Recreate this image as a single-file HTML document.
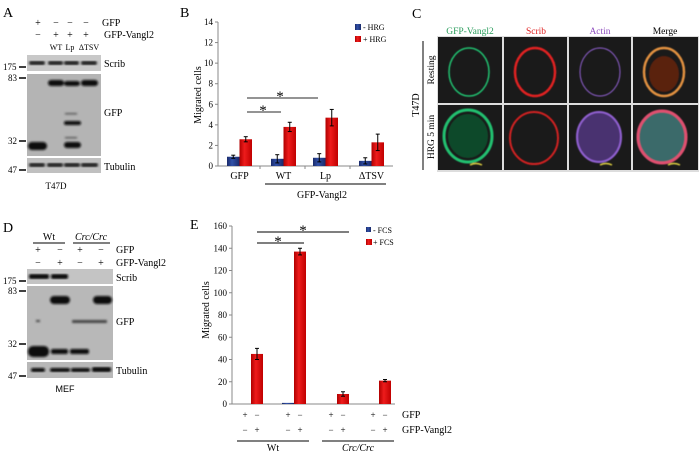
<!DOCTYPE html>
<html><head><meta charset="utf-8"><style>
html,body{margin:0;padding:0;background:#fff;width:700px;height:451px;overflow:hidden}
svg{display:block;font-family:"Liberation Serif",serif}
</style></head><body>
<svg id="fig" width="700" height="451" viewBox="0 0 700 451">
<defs>
<filter id="blur1"><feGaussianBlur stdDeviation="1"/></filter>
<filter id="blur05"><feGaussianBlur stdDeviation="0.6"/></filter>
<linearGradient id="gRed" x1="0" x2="1"><stop offset="0" stop-color="#b00000"/><stop offset="0.4" stop-color="#ee1c1c"/><stop offset="1" stop-color="#c00000"/></linearGradient>
<linearGradient id="gBlue" x1="0" x2="1"><stop offset="0" stop-color="#1a2a6a"/><stop offset="0.4" stop-color="#3050a8"/><stop offset="1" stop-color="#1a2a6a"/></linearGradient>
</defs>

<!-- Panel A -->
<g font-size="10">
<text x="3" y="17" font-size="14">A</text>
<g>
<text x="38" y="26" text-anchor="middle">+</text><text x="56" y="26" text-anchor="middle">−</text><text x="70" y="26" text-anchor="middle">−</text><text x="86" y="26" text-anchor="middle">−</text>
<text x="102" y="26">GFP</text>
<text x="38" y="38" text-anchor="middle">−</text><text x="56" y="38" text-anchor="middle">+</text><text x="70" y="38" text-anchor="middle">+</text><text x="86" y="38" text-anchor="middle">+</text>
<text x="104" y="38">GFP-Vangl2</text>
<text x="56" y="50" text-anchor="middle" font-size="8">WT</text><text x="70" y="50" text-anchor="middle" font-size="8">Lp</text><text x="89" y="50" text-anchor="middle" font-size="8">ΔTSV</text>
</g>
<g>
<rect x="27" y="55" width="74" height="16" fill="#c8c8c8"/>
<g filter="url(#blur1)" fill="#222"><rect x="29" y="61" width="16" height="4" rx="2"/><rect x="48" y="61" width="15" height="4" rx="2"/><rect x="64" y="61" width="15" height="4" rx="2"/><rect x="81" y="61" width="16" height="4" rx="2"/></g>
<text x="104" y="67">Scrib</text><text x="3" y="70" font-size="9">175</text><line x1="19" y1="67" x2="26" y2="67" stroke="#000" stroke-width="1.5"/>
</g>
<g>
<rect x="27" y="74" width="74" height="82" fill="#b4b4b4"/>
<g filter="url(#blur1)" fill="#111"><rect x="48" y="80" width="16" height="6" rx="3"/><rect x="64" y="81" width="16" height="5" rx="3"/><rect x="81" y="80" width="17" height="6" rx="3"/>
<rect x="28" y="142" width="19" height="8" rx="4"/><rect x="64" y="121" width="17" height="4" rx="2"/><rect x="64" y="142" width="17" height="6" rx="3"/><rect x="65" y="113" width="12" height="1.5" fill="#555"/><rect x="65" y="137" width="12" height="1.5" fill="#555"/></g>
<text x="104" y="116">GFP</text><text x="8" y="81" font-size="9">83</text><line x1="19" y1="78" x2="26" y2="78" stroke="#000" stroke-width="1.5"/>
<text x="8" y="144" font-size="9">32</text><line x1="19" y1="141" x2="26" y2="141" stroke="#000" stroke-width="1.5"/>
</g>
<g>
<rect x="27" y="158" width="74" height="15" fill="#c0c0c0"/>
<g filter="url(#blur1)" fill="#222"><rect x="29" y="163" width="16" height="4" rx="2"/><rect x="47" y="163" width="16" height="4" rx="2"/><rect x="64" y="163" width="16" height="4" rx="2"/><rect x="81" y="163" width="17" height="4" rx="2"/></g>
<text x="104" y="170">Tubulin</text><text x="8" y="173" font-size="9">47</text><line x1="19" y1="170" x2="26" y2="170" stroke="#000" stroke-width="1.5"/>
</g>
<text x="56" y="189" text-anchor="middle" font-size="9">T47D</text>
</g>

<!-- Panel B chart -->
<g id="chartB" font-size="9"></g>

<!-- Panel C -->
<g>
<text x="412" y="18" font-size="14">C</text>
<text x="470" y="34" text-anchor="middle" font-size="9.5" fill="#2a9d5c">GFP-Vangl2</text>
<text x="536" y="34" text-anchor="middle" font-size="9.5" fill="#e02020">Scrib</text>
<text x="600" y="34" text-anchor="middle" font-size="9.5" fill="#9050c0">Actin</text>
<text x="665" y="34" text-anchor="middle" font-size="9.5">Merge</text>
<line x1="423" y1="41" x2="423" y2="170" stroke="#000"/>
<text transform="translate(419,105) rotate(-90)" text-anchor="middle" font-size="10">T47D</text>
<text transform="translate(434,70) rotate(-90)" text-anchor="middle" font-size="9.5">Resting</text>
<text transform="translate(434,137) rotate(-90)" text-anchor="middle" font-size="9.5">HRG 5 min</text>
<rect x="437" y="36" width="262" height="136" fill="#ddd"/>
<g fill="#1a1a1a">
<rect x="438" y="37" width="64" height="66"/><rect x="504" y="37" width="63" height="66"/><rect x="569" y="37" width="62" height="66"/><rect x="633" y="37" width="65" height="66"/>
<rect x="438" y="105" width="64" height="65"/><rect x="504" y="105" width="63" height="65"/><rect x="569" y="105" width="62" height="65"/><rect x="633" y="105" width="65" height="65"/>
</g>
<g fill="none" filter="url(#blur05)">
<ellipse cx="469" cy="72" rx="20" ry="24" stroke="#20c070" stroke-width="1.5"/>
<ellipse cx="535" cy="72" rx="20" ry="24" stroke="#e02020" stroke-width="2.5"/>
<ellipse cx="600" cy="72" rx="20" ry="24" stroke="#9060d0" stroke-width="1"/>
<ellipse cx="664" cy="72" rx="20" ry="24" stroke="#e09040" stroke-width="2.5"/><ellipse cx="664" cy="74" rx="15" ry="18" fill="#5a2010" stroke="none"/>
<ellipse cx="468" cy="136" rx="24" ry="26" stroke="#20c070" stroke-width="3"/><ellipse cx="468" cy="136" rx="20" ry="22" fill="#0c4a2a" stroke="none"/>
<ellipse cx="534" cy="138" rx="24" ry="26" stroke="#d02020" stroke-width="2"/>
<ellipse cx="599" cy="137" rx="22" ry="25" fill="#4a3070" stroke="#9060d0" stroke-width="2"/>
<ellipse cx="662" cy="137" rx="24" ry="26" fill="#3a6a6a" stroke="#e05070" stroke-width="3"/>
<path d="M470 165 q6 -3 12 0 M600 165 q6 -3 12 0 M668 165 q6 -3 12 0" stroke="#e0d040" stroke-width="1.5"/>
</g>
</g>

<!-- Panel D -->
<g font-size="10">
<text x="3" y="232" font-size="14">D</text>
<text x="49" y="240" text-anchor="middle">Wt</text><line x1="33" y1="243" x2="65" y2="243" stroke="#000"/>
<text x="91" y="240" text-anchor="middle" font-style="italic">Crc/Crc</text><line x1="73" y1="243" x2="110" y2="243" stroke="#000"/>
<text x="38" y="253" text-anchor="middle">+</text><text x="60" y="253" text-anchor="middle">−</text><text x="80" y="253" text-anchor="middle">+</text><text x="101" y="253" text-anchor="middle">−</text><text x="116" y="253">GFP</text>
<text x="38" y="266" text-anchor="middle">−</text><text x="60" y="266" text-anchor="middle">+</text><text x="80" y="266" text-anchor="middle">−</text><text x="101" y="266" text-anchor="middle">+</text><text x="116" y="266">GFP-Vangl2</text>
<g>
<rect x="27" y="269" width="86" height="15" fill="#c4c4c4"/>
<g filter="url(#blur1)" fill="#111"><rect x="29" y="274" width="20" height="5" rx="2"/><rect x="51" y="274" width="17" height="5" rx="2"/></g>
<text x="116" y="281">Scrib</text><text x="3" y="284" font-size="9">175</text><line x1="19" y1="281" x2="26" y2="281" stroke="#000" stroke-width="1.5"/>
</g>
<g>
<rect x="27" y="286" width="86" height="74" fill="#b8b8b8"/>
<g filter="url(#blur1)" fill="#111"><rect x="50" y="296" width="20" height="8" rx="4"/><rect x="93" y="296" width="19" height="8" rx="4"/>
<rect x="28" y="346" width="21" height="11" rx="5"/><rect x="51" y="349" width="17" height="5" rx="2"/><rect x="70" y="349" width="19" height="5" rx="2"/>
<rect x="72" y="320" width="35" height="3" rx="1" fill="#444"/><rect x="36" y="320" width="4" height="2" fill="#444"/></g>
<text x="116" y="325">GFP</text><text x="8" y="294" font-size="9">83</text><line x1="19" y1="291" x2="26" y2="291" stroke="#000" stroke-width="1.5"/>
<text x="8" y="347" font-size="9">32</text><line x1="19" y1="344" x2="26" y2="344" stroke="#000" stroke-width="1.5"/>
</g>
<g>
<rect x="27" y="362" width="86" height="16" fill="#b8b8b8"/>
<g filter="url(#blur1)" fill="#111"><rect x="31" y="368" width="14" height="4" rx="2"/><rect x="50" y="368" width="20" height="4" rx="2"/><rect x="71" y="368" width="19" height="4" rx="2"/><rect x="92" y="367" width="19" height="5" rx="2"/></g>
<text x="116" y="374">Tubulin</text><text x="8" y="379" font-size="9">47</text><line x1="19" y1="376" x2="26" y2="376" stroke="#000" stroke-width="1.5"/>
</g>
<text x="65" y="392" text-anchor="middle" font-family="Liberation Sans, sans-serif" font-size="9">MEF</text>
</g>

<!-- Panel E chart -->
<g id="chartE" font-size="9"></g>
</svg>

<script>
// ----- Panel B data -----
const bCategories = ["GFP", "WT", "Lp", "ΔTSV"];
const bMinusHRG = [0.9, 0.7, 0.8, 0.5];
const bMinusErr = [0.15, 0.4, 0.4, 0.3];
const bPlusHRG = [2.6, 3.8, 4.7, 2.3];
const bPlusErr = [0.25, 0.45, 0.8, 0.8];
const bTicks = [0, 2, 4, 6, 8, 10, 12, 14];

// ----- Panel E data -----
const eGroups = ["Wt GFP", "Wt GFP-Vangl2", "Crc/Crc GFP", "Crc/Crc GFP-Vangl2"];
const eMinusFCS = [0, 1, 0, 0];
const ePlusFCS = [45, 137, 9, 21];
const ePlusErr = [5, 3, 2, 1];
const eTicks = [0, 20, 40, 60, 80, 100, 120, 140, 160];

const NS = "http://www.w3.org/2000/svg";
function mk(parent, tag, attrs, text) {
  const e = document.createElementNS(NS, tag);
  for (const k in attrs) e.setAttribute(k, attrs[k]);
  if (text !== undefined) e.textContent = text;
  parent.appendChild(e);
  return e;
}

// ===== Panel B =====
(function(){
  const g = document.getElementById("chartB");
  const x0 = 218, x1 = 393, yb = 166, yt = 22, vmax = 14;
  const yS = v => yb - v / vmax * (yb - yt);
  const groupLeft = [227, 271, 313, 359];
  const bw = 12.5;
  const xS = i => groupLeft[i];
  let t = mk(g, "text", {x: 180, y: 17, "font-size": 14}, "B");
  
  
  let ax = mk(g, "line", {x1: x0, y1: yt, x2: x0, y2: yb, stroke: "#888"});
  
  
  let xa = mk(g, "line", {x1: x0, y1: yb, x2: x1, y2: yb, stroke: "#888"});
  
  
  bTicks.forEach(v => {
    mk(g, "line", {x1: x0 - 3, y1: yS(v), x2: x0, y2: yS(v), stroke: "#888"});
    const tl = mk(g, "text", {x: x0 - 5, y: yS(v) + 3, "text-anchor": "end"}, v);
    
    
  });
  [260, 305, 350].forEach(x => mk(g, "line", {x1: x, y1: yb, x2: x, y2: yb + 3, stroke: "#888"}));
  const yl = mk(g, "text", {transform: "translate(201,95) rotate(-90)", "text-anchor": "middle", "font-size": 10}, "Migrated cells");
  
  
  bCategories.forEach((c, i) => {
    const xb = xS(i);
    const rb = mk(g, "rect", {x: xb, y: yS(bMinusHRG[i]), width: bw, height: yb - yS(bMinusHRG[i]), fill: "url(#gBlue)"});
    
    
    const rr = mk(g, "rect", {x: xb + bw, y: yS(bPlusHRG[i]), width: bw, height: yb - yS(bPlusHRG[i]), fill: "url(#gRed)"});
    
    
    [[xb + bw/2, bMinusHRG[i], bMinusErr[i]], [xb + bw*1.5, bPlusHRG[i], bPlusErr[i]]].forEach(([cx, v, e]) => {
      mk(g, "line", {x1: cx, y1: yS(v + e), x2: cx, y2: yS(v - e), stroke: "#000"});
      mk(g, "line", {x1: cx - 2, y1: yS(v + e), x2: cx + 2, y2: yS(v + e), stroke: "#000"});
      mk(g, "line", {x1: cx - 2, y1: yS(v - e), x2: cx + 2, y2: yS(v - e), stroke: "#000"});
    });
    const cl = mk(g, "text", {x: xb + bw, y: yb + 13, "text-anchor": "middle", "font-size": 10}, c);
    
    
  });
  mk(g, "line", {x1: 265, y1: 184, x2: 386, y2: 184, stroke: "#000"});
  const gl = mk(g, "text", {x: 322, y: 198, "text-anchor": "middle", "font-size": 10}, "GFP-Vangl2");
  
  
  mk(g, "line", {x1: 247, y1: 112, x2: 281, y2: 112, stroke: "#555", "stroke-width": 1.3});
  mk(g, "text", {x: 263, y: 115, "text-anchor": "middle", "font-size": 15}, "*");
  mk(g, "line", {x1: 247, y1: 98, x2: 318, y2: 98, stroke: "#555", "stroke-width": 1.3});
  mk(g, "text", {x: 280, y: 101, "text-anchor": "middle", "font-size": 15}, "*");
  const l1 = mk(g, "rect", {x: 355, y: 24, width: 6, height: 6, fill: "url(#gBlue)"});
  
  
  mk(g, "text", {x: 363, y: 30, "font-size": 8}, "- HRG");
  const l2 = mk(g, "rect", {x: 355, y: 36, width: 6, height: 6, fill: "url(#gRed)"});
  
  
  mk(g, "text", {x: 363, y: 42, "font-size": 8}, "+ HRG");
})();

// ===== Panel E =====
(function(){
  const g = document.getElementById("chartE");
  const x0 = 232, x1 = 395, yb = 404, yt = 226, vmax = 160;
  const yS = v => yb - v / vmax * (yb - yt);
  const groupLeft = [239, 282, 325, 367];
  const bw = 12;
  let t = mk(g, "text", {x: 190, y: 229, "font-size": 14}, "E");
  
  
  const ya = mk(g, "line", {x1: x0, y1: yt, x2: x0, y2: yb, stroke: "#888"});
  
  
  const xa = mk(g, "line", {x1: x0, y1: yb, x2: x1, y2: yb, stroke: "#888"});
  
  
  eTicks.forEach(v => {
    mk(g, "line", {x1: x0 - 3, y1: yS(v), x2: x0, y2: yS(v), stroke: "#888"});
    const tl = mk(g, "text", {x: x0 - 5, y: yS(v) + 3, "text-anchor": "end"}, v);
    
    
  });
  const yl = mk(g, "text", {transform: "translate(209,310) rotate(-90)", "text-anchor": "middle", "font-size": 10}, "Migrated cells");
  
  
  eGroups.forEach((c, i) => {
    const xb = groupLeft[i];
    if (eMinusFCS[i] > 0) {
      const rb = mk(g, "rect", {x: xb, y: yS(eMinusFCS[i]), width: bw, height: yb - yS(eMinusFCS[i]), fill: "url(#gBlue)"});
      
      
    }
    const rr = mk(g, "rect", {x: xb + bw, y: yS(ePlusFCS[i]), width: bw, height: yb - yS(ePlusFCS[i]), fill: "url(#gRed)"});
    
    
    const cx = xb + bw * 1.5, v = ePlusFCS[i], e = ePlusErr[i];
    mk(g, "line", {x1: cx, y1: yS(v + e), x2: cx, y2: yS(v - e), stroke: "#000"});
    mk(g, "line", {x1: cx - 2, y1: yS(v + e), x2: cx + 2, y2: yS(v + e), stroke: "#000"});
    mk(g, "line", {x1: cx - 2, y1: yS(v - e), x2: cx + 2, y2: yS(v - e), stroke: "#000"});
    mk(g, "text", {x: xb + bw/2, y: 418, "text-anchor": "middle"}, "+");
    mk(g, "text", {x: xb + bw*1.5, y: 418, "text-anchor": "middle"}, "−");
    mk(g, "text", {x: xb + bw/2, y: 433, "text-anchor": "middle"}, "−");
    mk(g, "text", {x: xb + bw*1.5, y: 433, "text-anchor": "middle"}, "+");
  });
  mk(g, "text", {x: 402, y: 418, "font-size": 10}, "GFP");
  mk(g, "text", {x: 402, y: 433, "font-size": 10}, "GFP-Vangl2");
  mk(g, "line", {x1: 237, y1: 441, x2: 309, y2: 441, stroke: "#000"});
  mk(g, "line", {x1: 322, y1: 441, x2: 394, y2: 441, stroke: "#000"});
  const w = mk(g, "text", {x: 273, y: 451, "text-anchor": "middle", "font-size": 10}, "Wt");
  
  
  const cr = mk(g, "text", {x: 358, y: 451, "text-anchor": "middle", "font-size": 10, "font-style": "italic"}, "Crc/Crc");
  
  
  mk(g, "line", {x1: 257, y1: 243, x2: 304, y2: 243, stroke: "#333", "stroke-width": 1.2});
  mk(g, "text", {x: 278, y: 246, "text-anchor": "middle", "font-size": 15}, "*");
  mk(g, "line", {x1: 257, y1: 232, x2: 349, y2: 232, stroke: "#333", "stroke-width": 1.2});
  mk(g, "text", {x: 303, y: 235, "text-anchor": "middle", "font-size": 15}, "*");
  const l1 = mk(g, "rect", {x: 366, y: 227, width: 5, height: 5, fill: "url(#gBlue)"});
  
  
  mk(g, "text", {x: 373, y: 233, "font-size": 8}, "- FCS");
  const l2 = mk(g, "rect", {x: 366, y: 239, width: 6, height: 6, fill: "url(#gRed)"});
  
  
  mk(g, "text", {x: 373, y: 245, "font-size": 8}, "+ FCS");
})();
</script>
</body></html>
